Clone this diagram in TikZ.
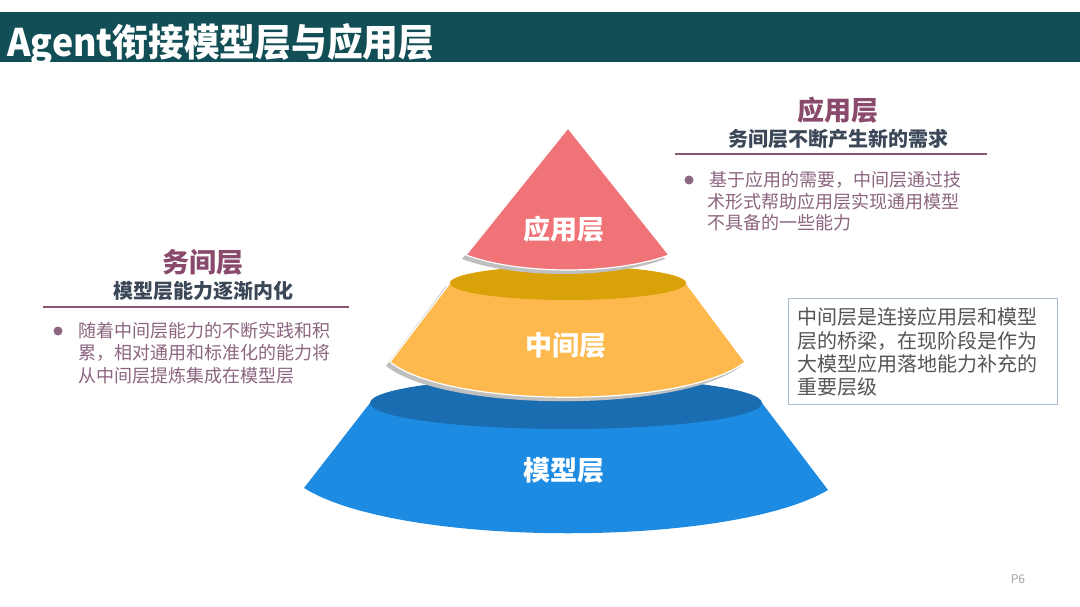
\documentclass[tikz,border=0pt]{standalone}
\usepackage{fontspec}
\setmainfont{Noto Sans CJK SC}
\definecolor{titlec}{HTML}{124E55}
\definecolor{pinkc}{HTML}{EF7377}
\definecolor{goldc}{HTML}{D9A208}
\definecolor{orangec}{HTML}{FDB94E}
\definecolor{dblue}{HTML}{1B6DB1}
\definecolor{bluec}{HTML}{1E8BE2}
\definecolor{headc}{HTML}{8A4A6C}
\definecolor{subc}{HTML}{3C4858}
\definecolor{bulc}{HTML}{8C6580}
\definecolor{rulec}{HTML}{8A5676}
\definecolor{boxc}{HTML}{555555}
\definecolor{boxline}{HTML}{A9BBCB}
\begin{document}
\begin{tikzpicture}[x=1pt,y=-1pt,
  layerlabel/.style={text=white, font=\fontsize{27}{30}\selectfont\bfseries},
  head/.style={text=headc, font=\fontsize{27}{30}\selectfont\bfseries},
  subhead/.style={text=subc, font=\fontsize{20}{24}\selectfont\bfseries},
  bullettext/.style={text=bulc, font=\fontsize{18}{21}\selectfont, anchor=west, inner sep=0pt},
  boxtext/.style={text=boxc, font=\fontsize{20}{23}\selectfont, anchor=west, inner sep=0pt},
  rulestyle/.style={draw=rulec, line width=2.5pt},
  bulletdot/.style={circle, fill=bulc, inner sep=0pt, minimum size=9pt},
  shadowstyle/.style={fill=black!25},
  ]
\useasboundingbox (0,0) rectangle (1080,607);
\fill[white] (0,0) rectangle (1080,607);
% title bar
\fill[titlec] (0,12) rectangle (1080,62);
\node[anchor=west, text=white, font=\fontsize{38}{42}\selectfont\bfseries, inner sep=0pt] (title) at (7,45) {\scalebox{0.94}[1]{Agent衔接模型层与应用层}};

% ---- pyramid ----
% bottom (blue) layer
\fill[bluec] (370,403) -- (304,488) .. controls (400,548) and (730,548) .. (828,490) -- (762,403) -- cycle;
\fill[dblue] (566,403) ellipse [x radius=196, y radius=26];
% middle (orange) layer
\fill[shadowstyle] (446,286) -- (386,366) .. controls (446,413) and (681,413) .. (741,366) -- (682,286) -- cycle;
\filldraw[fill=orangec, draw=white, line width=1.2pt] (450,283) -- (390,362) .. controls (450,409) and (685,409) .. (745,362) -- (686,283) -- cycle;
\fill[goldc] (568,283) ellipse [x radius=118, y radius=17];
% top (pink) layer
\fill[shadowstyle] (565,131) -- (462,259) .. controls (516,279) and (611,279) .. (665,259) -- cycle;
\filldraw[fill=pinkc, draw=white, line width=1.2pt] (568,128) -- (466,255) .. controls (520,275) and (615,275) .. (669,255) -- cycle;

\node[layerlabel] (app) at (564,229) {应用层};
\node[layerlabel] (mid) at (566,345) {中间层};
\node[layerlabel] (model) at (564,470) {模型层};

% ---- right upper text ----
\node[head] (rhead) at (838,110) {应用层};
\node[subhead] (rsub) at (838,139) {务间层不断产生新的需求};
\draw[rulestyle] (675,154) -- (987,154);
\node[bulletdot] (rdot) at (689,180) {};
\node[bullettext] (r1) at (709,180) {基于应用的需要，中间层通过技};
\node[bullettext] (r2) at (707,202) {术形式帮助应用层实现通用模型};
\node[bullettext] (r3) at (707,223) {不具备的一些能力};

% ---- left text ----
\node[head] (lhead) at (203,262) {务间层};
\node[subhead] (lsub) at (203,291) {模型层能力逐渐内化};
\draw[rulestyle] (43,307) -- (349,307);
\node[bulletdot] (ldot) at (58,331) {};
\node[bullettext] (l1) at (78,331) {随着中间层能力的不断实践和积};
\node[bullettext] (l2) at (78,353) {累，相对通用和标准化的能力将};
\node[bullettext] (l3) at (78,376) {从中间层提炼集成在模型层};

% ---- right box ----
\draw[boxline, line width=1pt] (788,298) rectangle (1057,404);
\node[boxtext] (b1) at (797,317) {中间层是连接应用层和模型};
\node[boxtext] (b2) at (797,341) {层的桥梁，在现阶段是作为};
\node[boxtext] (b3) at (797,364) {大模型应用落地能力补充的};
\node[boxtext] (b4) at (797,387) {重要层级};

% page number
\node[text=black!35, font=\fontsize{12}{14}\selectfont] (pg) at (1018,579) {P6};
\end{tikzpicture}
\end{document}
